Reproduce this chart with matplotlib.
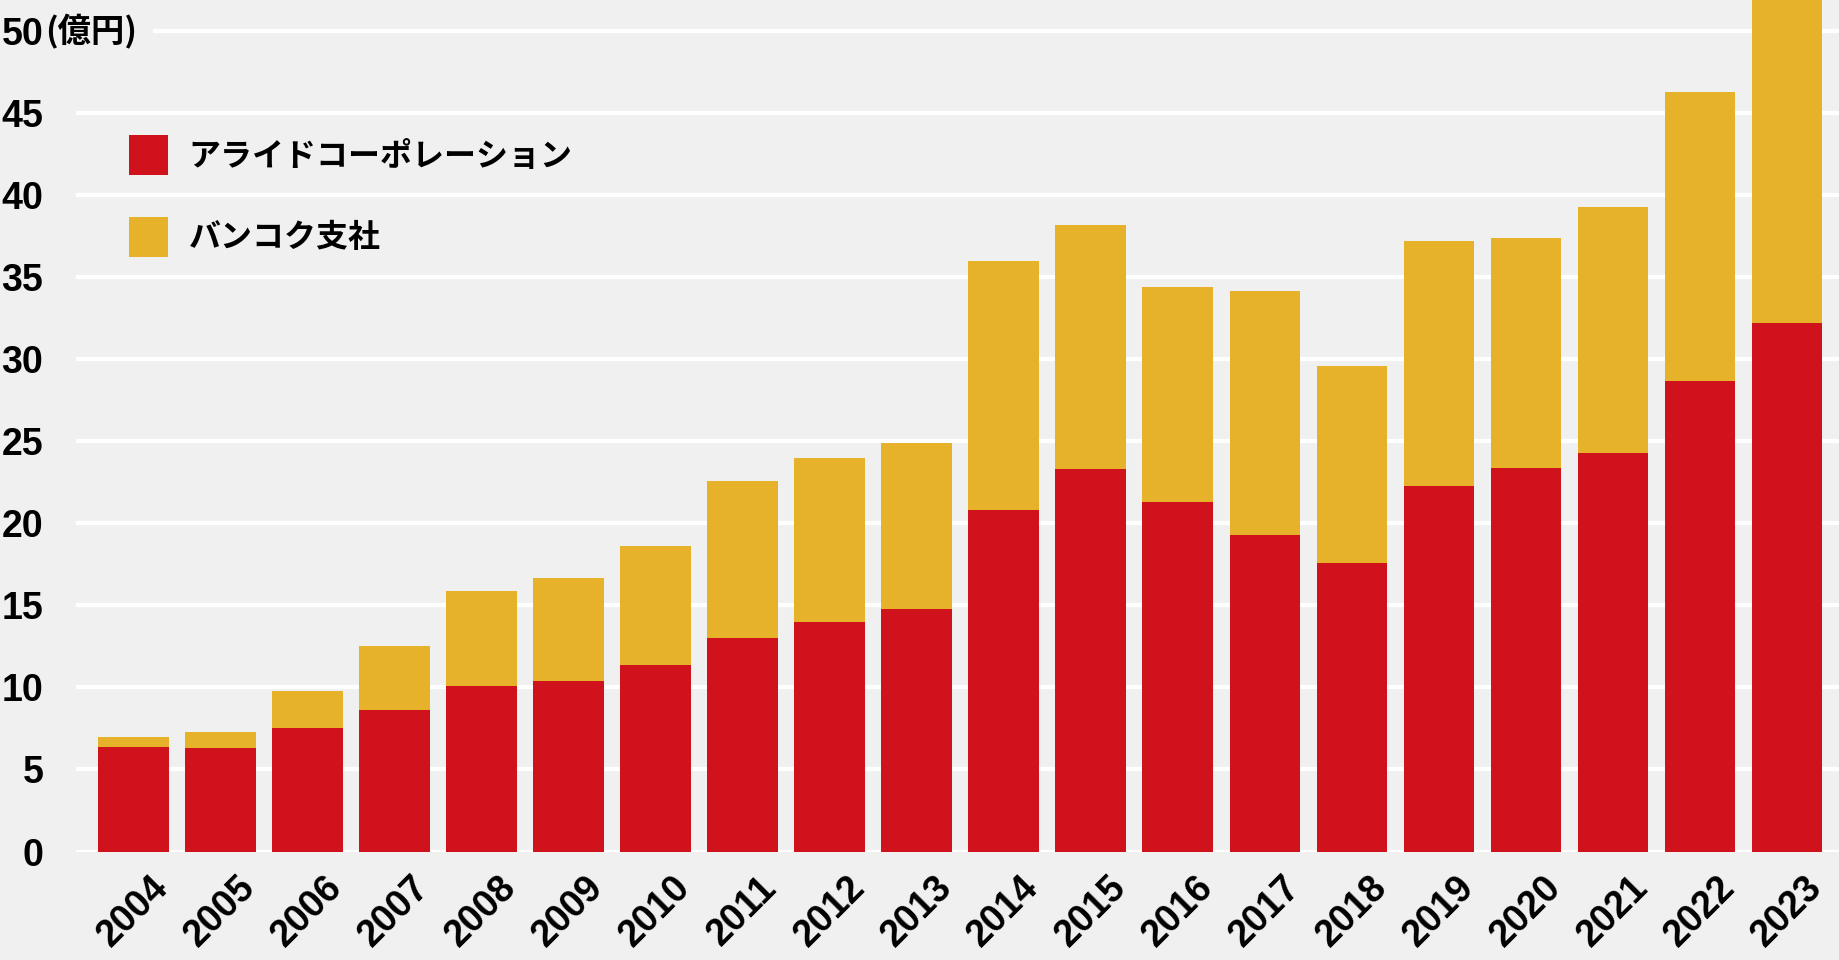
import numpy as np
import matplotlib
matplotlib.use("Agg")
import matplotlib.pyplot as plt
from matplotlib.patches import Patch, Rectangle

plt.rcParams['font.family'] = ['Liberation Sans', 'Noto Sans CJK JP']

# データ（億円）
years = [str(y) for y in range(2004, 2024)]
allied = [6.4, 6.3, 7.5, 8.6, 10.1, 10.4, 11.4, 13.0, 14.0, 14.8,
          20.8, 23.3, 21.3, 19.3, 17.6, 22.3, 23.4, 24.3, 28.7, 32.2]
bangkok = [0.6, 1.0, 2.3, 3.9, 5.8, 6.3, 7.2, 9.6, 10.0, 10.1,
           15.2, 14.9, 13.1, 14.9, 12.0, 14.9, 14.0, 15.0, 17.6, 21.0]
label_allied = "アライドコーポレーション"
label_bangkok = "バンコク支社"
unit_label = "(億円)"
y_ticks = [0, 5, 10, 15, 20, 25, 30, 35, 40, 45, 50]

BG = "#F0F0F0"
RED = "#D0121C"
YELLOW = "#E6B229"
JP = ["Noto Sans CJK JP"]

fig = plt.figure(figsize=(18.4, 9.6), dpi=100, facecolor=BG)
ax = fig.add_axes([76 / 1840, 1 - 851.5 / 960, 1 - 76 / 1840, 851.5 / 960])
ax.set_facecolor(BG)

x = np.arange(len(years))
ax.bar(x, allied, width=0.81, color=RED, zorder=2)
ax.bar(x, bangkok, width=0.81, bottom=allied, color=YELLOW, zorder=2)

ax.set_xlim(-0.66, len(years) - 1 + 0.61)
ax.set_ylim(0, 51.92)
ax.set_yticks(y_ticks)
ax.set_yticklabels([str(t) for t in y_ticks], fontsize=27, fontweight="bold")
ax.set_xticks(x)
ax.set_xticklabels(years, rotation=45, ha="center", fontsize=27, fontweight="bold")
ax.tick_params(axis="both", length=0)
ax.tick_params(axis="y", pad=23.5)
ax.tick_params(axis="x", pad=13)
ax.grid(axis="y", color="white", linewidth=3)
ax.set_axisbelow(True)
for s in ax.spines.values():
    s.set_visible(False)

# 50の目盛線の左側を単位ラベル分だけ隠す
ax.add_patch(Rectangle((0, 49.5), 77 / 1764, 1.0, transform=ax.get_yaxis_transform(),
                       facecolor=BG, edgecolor="none", zorder=1))
ax.annotate(unit_label, xy=(0, 50), xycoords=("axes fraction", "data"),
            xytext=(-22.3, 0), textcoords="offset points", ha="left", va="center",
            fontsize=24, family=JP, fontweight="bold", zorder=3,
            annotation_clip=False)

handles = [Patch(facecolor=RED, label=label_allied),
           Patch(facecolor=YELLOW, label=label_bangkok)]
ax.legend(handles=handles, loc="upper left", bbox_to_anchor=(129 / 1840, 1 - 135 / 960),
          bbox_transform=fig.transFigure, frameon=False,
          prop={"family": JP, "size": 23, "weight": "bold"},
          handlelength=1.22, handleheight=1.55, handletextpad=0.65,
          labelspacing=1.3, borderaxespad=0, borderpad=0)

fig.savefig("out.png", dpi=100, facecolor=BG)
